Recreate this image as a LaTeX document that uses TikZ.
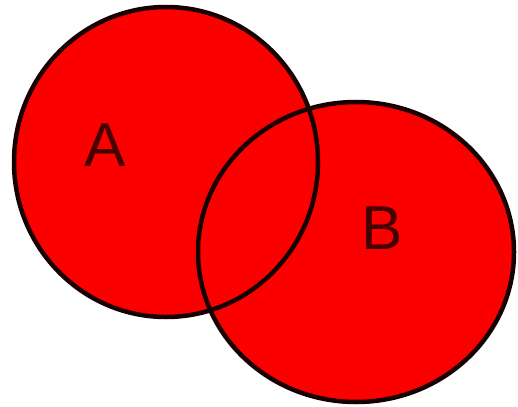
\documentclass[tikz,border=0pt]{standalone}
\usepackage{fontspec}
\setmainfont{Liberation Sans}
\definecolor{vennred}{RGB}{252,0,0}
\definecolor{labelred}{RGB}{70,0,0}

\begin{document}
\begin{tikzpicture}[x=1pt, y=-1pt, every node/.style={font=\fontsize{62}{62}\selectfont, text=labelred}]
  \useasboundingbox (0,0) rectangle (518,406);
  % the two sets, filled first, outlines on top
  \fill[vennred] (166,162) ellipse [x radius=152, y radius=155];
  \fill[vennred] (356,252) ellipse [x radius=158, y radius=150];
  \draw[line width=4.5pt, draw=black!90!red] (166,162) ellipse [x radius=152, y radius=155];
  \draw[line width=4.5pt, draw=black!90!red] (356,252) ellipse [x radius=158, y radius=150];
  \node (setA) at (105,145) {A};
  \node (setB) at (382,228) {B};
\end{tikzpicture}
\end{document}
